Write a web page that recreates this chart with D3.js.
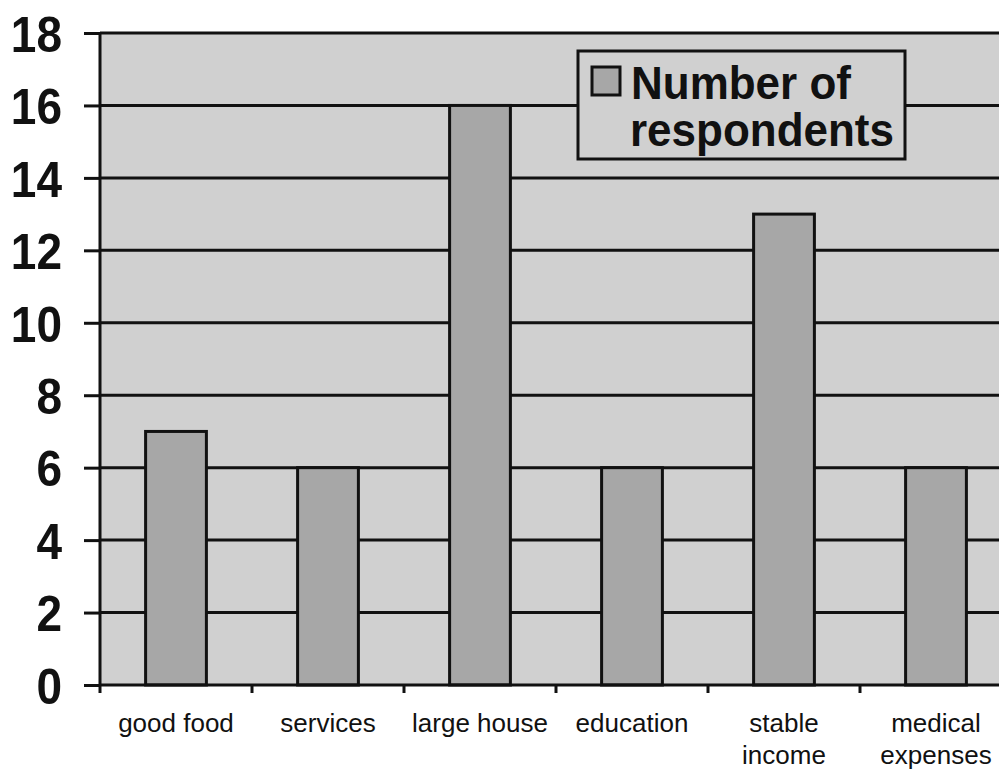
<!DOCTYPE html>
<html><head><meta charset="utf-8">
<script src="https://cdn.jsdelivr.net/npm/d3@7"></script>
<style>html,body{margin:0;padding:0;background:#fff;}svg{display:block;}</style>
</head><body>
<svg id="chart" width="999" height="769"></svg>
<script>
const categories = [["good food"],["services"],["large house"],["education"],["stable","income"],["medical","expenses"]];
const values = [7, 6, 16, 6, 13, 6];
const yTicks = [0,2,4,6,8,10,12,14,16,18];
const seriesName = ["Number of","respondents"];

const svg = d3.select("#chart");
const pLeft = 100, pRight = 1012, pTop = 33, pBottom = 685;
const FONT = "Liberation Sans, Arial, Helvetica, sans-serif";
const keys = categories.map((c,i)=>i);
const x = d3.scaleBand().domain(keys).range([pLeft, pRight]).paddingInner(0.6).paddingOuter(0.3);
const xb = d3.scaleBand().domain(keys).range([pLeft, pRight]);
const y = d3.scaleLinear().domain([0,18]).range([pBottom, pTop]);
const bg = "#d0d0d0", barFill = "#a7a7a7";

svg.append("rect").attr("x", pLeft).attr("y", pTop).attr("width", pRight-pLeft).attr("height", pBottom-pTop).attr("fill", bg);

// gridlines
svg.append("g").selectAll("line").data(yTicks.filter(d=>d>0)).join("line")
  .attr("x1", pLeft).attr("x2", pRight).attr("y1", d=>y(d)).attr("y2", d=>y(d))
  .attr("stroke","#111").attr("stroke-width",3);

// bars
svg.append("g").selectAll("rect").data(values).join("rect")
  .attr("x",(d,i)=>x(i)).attr("width",x.bandwidth())
  .attr("y",d=>y(d)).attr("height",d=>y(0)-y(d))
  .attr("fill",barFill).attr("stroke","#111").attr("stroke-width",3);

// y axis
const yAxis = d3.axisLeft(y).tickValues(yTicks).tickSize(16).tickPadding(22);
const ya = svg.append("g").attr("transform",`translate(${pLeft},0)`).call(yAxis);
ya.select(".domain").attr("stroke","#111").attr("stroke-width",3).attr("d",`M0,${pTop}V${pBottom}`);
ya.selectAll(".tick line").attr("stroke","#111").attr("stroke-width",3);
ya.selectAll(".tick text").attr("font-family",FONT).attr("font-weight","bold")
  .attr("font-size",46).attr("fill","#111").attr("dy","0.36em")
  .attr("transform","scale(1,1.1)");

// x axis
const xAxis = d3.axisBottom(xb).tickSize(0).tickFormat(()=>"");
const xa = svg.append("g").attr("transform",`translate(0,${pBottom})`).call(xAxis);
xa.select(".domain").attr("stroke","#111").attr("stroke-width",3).attr("d",`M${pLeft},0H${pRight}`);
xa.selectAll(".tick").remove();
const bounds = keys.map(k=>xb(k)).concat([pRight]);
xa.selectAll("line.tk").data(bounds).join("line").attr("class","tk")
  .attr("x1",d=>d).attr("x2",d=>d).attr("y1",0).attr("y2",8).attr("stroke","#111").attr("stroke-width",3);
const lbl = svg.append("g").selectAll("text").data(categories).join("text")
  .attr("x",(d,i)=>xb(i)+xb.bandwidth()/2).attr("y",732)
  .attr("text-anchor","middle").attr("font-family",FONT)
  .attr("font-size",26).attr("fill","#111");
lbl.selectAll("tspan").data(d=>d).join("tspan")
  .attr("x",function(){return this.parentNode.getAttribute("x");})
  .attr("dy",(d,i)=>i===0?0:32).text(d=>d);

// legend
const lg = svg.append("g");
lg.append("rect").attr("x",578).attr("y",51).attr("width",327).attr("height",108)
  .attr("fill",bg).attr("stroke","#111").attr("stroke-width",3);
lg.append("rect").attr("x",592).attr("y",67).attr("width",28).attr("height",28)
  .attr("fill",barFill).attr("stroke","#111").attr("stroke-width",3);
lg.selectAll("text.lt").data(seriesName).join("text").attr("class","lt")
  .attr("font-family",FONT).attr("font-weight","bold")
  .attr("font-size",44).attr("fill","#111")
  .attr("transform",(d,i)=>`translate(${i===0?631:630},${i===0?99:146}) scale(1,1.06)`)
  .text(d=>d);
</script>
</body></html>
